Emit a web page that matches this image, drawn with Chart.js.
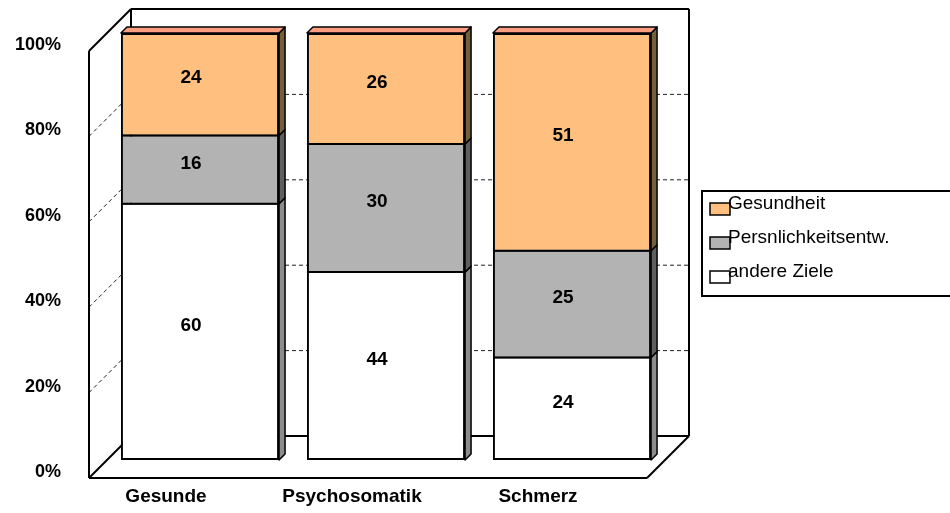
<!DOCTYPE html>
<html>
<head>
<meta charset="utf-8">
<script src="https://cdn.jsdelivr.net/npm/chart.js@4.4.0/dist/chart.umd.min.js"></script>
<style>
  html, body { margin: 0; padding: 0; background: #fff; }
</style>
</head>
<body>
<canvas id="chart" width="950" height="513"></canvas>
<script>
const categories = ["Gesunde", "Psychosomatik", "Schmerz"];
const andereZiele = [60, 44, 24];
const persoenlichkeit = [16, 30, 25];
const gesundheit = [24, 26, 51];
const seriesNames = ["andere Ziele", "Persnlichkeitsentw.", "Gesundheit"];
const yTicks = [0, 20, 40, 60, 80, 100];

const frontColors = ["#ffffff", "#b3b3b3", "#ffbf7f"];
const sideColors = ["#8c8c8c", "#5f5f5f", "#735f3c"];
const topColor = "#ff9f80";

// décalage des plans avant / arrière par rapport au plan des barres
const FRONT = { dx: -18, dy: 18 };
const BACK = { dx: 24, dy: -24 };
const DEPTH = 6;
const FONT = "'Liberation Sans', Arial, sans-serif";

function line(ctx, x1, y1, x2, y2) {
  ctx.beginPath();
  ctx.moveTo(x1, y1);
  ctx.lineTo(x2, y2);
  ctx.stroke();
}

function poly(ctx, pts, fill) {
  ctx.beginPath();
  ctx.moveTo(pts[0][0], pts[0][1]);
  pts.slice(1).forEach(p => ctx.lineTo(p[0], p[1]));
  ctx.closePath();
  ctx.fillStyle = fill;
  ctx.fill();
  ctx.stroke();
}

const box3d = {
  id: "box3d",
  beforeDatasetsDraw(chart) {
    const { ctx, chartArea: a, scales: { y } } = chart;
    const y0 = y.getPixelForValue(0);
    const y1 = y.getPixelForValue(100);
    const L = a.left, R = a.right;
    ctx.save();

    // lignes de grille pointillées (mur arrière + mur gauche)
    ctx.strokeStyle = "#222";
    ctx.lineWidth = 1;
    ctx.setLineDash([4, 3]);
    yTicks.slice(1, -1).forEach(v => {
      const py = y.getPixelForValue(v);
      line(ctx, L + BACK.dx, py + BACK.dy, R + BACK.dx, py + BACK.dy);
      line(ctx, L + FRONT.dx, py + FRONT.dy, L + BACK.dx, py + BACK.dy);
    });
    ctx.setLineDash([]);

    ctx.strokeStyle = "#000";
    ctx.lineWidth = 2;
    // mur arrière
    line(ctx, L + BACK.dx, y0 + BACK.dy, L + BACK.dx, y1 + BACK.dy);
    line(ctx, L + BACK.dx, y1 + BACK.dy, R + BACK.dx, y1 + BACK.dy);
    line(ctx, R + BACK.dx, y1 + BACK.dy, R + BACK.dx, y0 + BACK.dy);
    line(ctx, L + BACK.dx, y0 + BACK.dy, R + BACK.dx, y0 + BACK.dy);
    // mur gauche
    line(ctx, L + FRONT.dx, y1 + FRONT.dy, L + BACK.dx, y1 + BACK.dy);
    line(ctx, L + FRONT.dx, y0 + FRONT.dy, L + FRONT.dx, y1 + FRONT.dy);
    // sol
    line(ctx, L + FRONT.dx, y0 + FRONT.dy, L + BACK.dx, y0 + BACK.dy);
    line(ctx, L + FRONT.dx, y0 + FRONT.dy, R + FRONT.dx, y0 + FRONT.dy);
    line(ctx, R + FRONT.dx, y0 + FRONT.dy, R + BACK.dx, y0 + BACK.dy);
    ctx.restore();
  },
  afterDatasetsDraw(chart) {
    const { ctx } = chart;
    const n = chart.data.datasets.length;
    ctx.save();
    ctx.strokeStyle = "#000";
    ctx.lineJoin = "round";
    chart.data.datasets.forEach((ds, i) => {
      const meta = chart.getDatasetMeta(i);
      meta.data.forEach((el, j) => {
        const { x, y, base, width } = el.getProps(["x", "y", "base", "width"], true);
        const xl = x - width / 2, xr = x + width / 2;
        ctx.lineWidth = 1.5;
        // face latérale
        poly(ctx, [[xr, y], [xr + DEPTH, y - DEPTH], [xr + DEPTH, base - DEPTH], [xr, base]], sideColors[i]);
        // face supérieure
        if (i === n - 1) {
          poly(ctx, [[xl, y], [xl + DEPTH, y - DEPTH], [xr + DEPTH, y - DEPTH], [xr, y]], topColor);
        }
        // séparation entre segments
        if (i > 0) {
          ctx.lineWidth = 2;
          line(ctx, xl, base, xr, base);
        }
        // étiquette de valeur
        ctx.fillStyle = "#000";
        ctx.font = "bold 19px " + FONT;
        ctx.textAlign = "center";
        ctx.textBaseline = "middle";
        ctx.fillText(String(ds.data[j]), x - 9, (y + base) / 2 - 6);
      });
    });
    ctx.restore();
  },
  afterDraw(chart) {
    const { ctx } = chart;
    ctx.save();
    // légende
    ctx.strokeStyle = "#000";
    ctx.lineWidth = 2;
    ctx.strokeRect(702, 191, 260, 105);
    const rows = [203, 237, 271];
    const order = [2, 1, 0];
    ctx.font = "19px " + FONT;
    ctx.textAlign = "left";
    ctx.textBaseline = "middle";
    order.forEach((di, k) => {
      ctx.fillStyle = frontColors[di];
      ctx.lineWidth = 1.5;
      ctx.fillRect(710, rows[k], 20, 12);
      ctx.strokeRect(710, rows[k], 20, 12);
      ctx.fillStyle = "#000";
      ctx.fillText(seriesNames[di], 728, rows[k] + 1);
    });
    ctx.restore();
  }
};

const datasetsList = [andereZiele, persoenlichkeit, gesundheit].map((values, i) => ({
  label: seriesNames[i],
  data: values,
  backgroundColor: frontColors[i],
  borderColor: "#000",
  borderSkipped: false,
  borderWidth: {
    left: 2,
    right: 2,
    top: i === 2 ? 2 : 1,
    bottom: i === 0 ? 2 : 1
  },
  categoryPercentage: 0.85,
  barPercentage: 1
}));

new Chart(document.getElementById("chart").getContext("2d"), {
  type: "bar",
  data: { labels: categories, datasets: datasetsList },
  options: {
    responsive: false,
    animation: false,
    devicePixelRatio: 1,
    layout: { padding: { left: 0, top: 33, right: 285, bottom: 0 } },
    plugins: { legend: { display: false }, tooltip: { enabled: false } },
    scales: {
      x: {
        stacked: true,
        grid: { display: false, drawTicks: false },
        border: { display: false },
        ticks: {
          color: "#000",
          font: { family: FONT, size: 19, weight: "bold" },
          padding: 25,
          labelOffset: -34,
          maxRotation: 0
        },
        afterFit(s) {
          s.height = 53;
          s.paddingLeft = 0;
          s.paddingRight = 0;
        }
      },
      y: {
        stacked: true,
        min: 0,
        max: 100,
        grid: { display: false, drawTicks: false },
        border: { display: false },
        ticks: {
          stepSize: 20,
          color: "#000",
          font: { family: FONT, size: 18, weight: "bold" },
          padding: 46,
          labelOffset: 12,
          callback: v => v + "%"
        },
        afterFit(s) {
          s.width = 107;
          s.paddingTop = 0;
          s.paddingBottom = 0;
        }
      }
    }
  },
  plugins: [box3d]
});
</script>
</body>
</html>
